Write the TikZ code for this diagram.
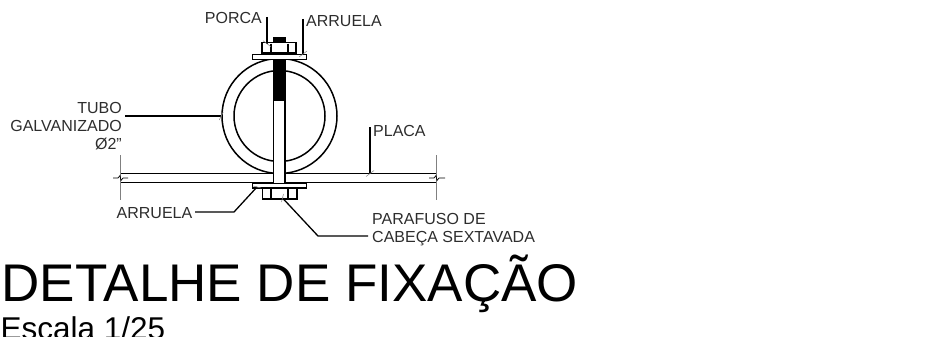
\documentclass[tikz,border=0pt]{standalone}
\usepackage{fontspec}
\setmainfont{Liberation Sans}
\usetikzlibrary{calc}
\definecolor{labelgray}{RGB}{45,45,45}
\tikzset{
    rotulo/.style={inner sep=0pt, text=labelgray, font=\fontsize{16}{18}\selectfont},
    peca/.style={draw, line width=1.5pt, fill=white},
    chamada/.style={line width=1.3pt},
    traco/.style={line width=0.5pt, gray},
}
\begin{document}
\begin{tikzpicture}[x=1pt, y=-1pt]
    \useasboundingbox (0,0) rectangle (929,337);

    % Tube
    \node[circle, draw, line width=1.5pt, inner sep=0pt, minimum size=115pt] (tubo) at (279.5,116) {};
    \node[circle, draw, line width=1.5pt, inner sep=0pt, minimum size=91pt] (tuboint) at (279.5,116) {};

    % Plate
    \coordinate (placaTL) at (120,173.5);
    \coordinate (placaTR) at (436,173.5);
    \coordinate (placaBL) at (120,182.5);
    \coordinate (placaBR) at (436,182.5);
    \draw[line width=1.5pt] (placaTL) -- (placaTR);
    \draw[line width=1.5pt] (placaBL) -- (placaBR);
    \draw[traco] (120,155) -- (120,200);
    \draw[traco] (436,155) -- (436,200);
    \draw[line width=0.7pt] (113,178) -- (118,178) -- (120,175.5) -- (121,180.5) -- (123,178) -- (128,178);
    \draw[line width=0.7pt] (429,178) -- (434,178) -- (436,175.5) -- (437,180.5) -- (439,178) -- (445,178);

    % Bolt
    \node[peca, inner sep=0pt, minimum width=11.5pt, minimum height=145pt, anchor=north] (parafuso) at (279,37.5) {};
    \fill (273,37) rectangle (285,44);
    \foreach \y in {60,62,...,100} {
        \draw[line width=1.2pt] (273,\y) -- (285,\y);
    }

    % Top nut and washer
    \node[peca, inner sep=0pt, minimum width=34pt, minimum height=10.5pt, anchor=south] (porca) at (279,54) {};
    \draw[line width=1.2pt] (271,43.7) -- (271,54);
    \draw[line width=1.2pt] (288,43.7) -- (288,54);
    \node[peca, inner sep=0pt, minimum width=54pt, minimum height=5pt, anchor=north] (arruelasup) at (279.5,54) {};

    % Bottom nut and washer
    \node[peca, inner sep=0pt, minimum width=54pt, minimum height=4.5pt, anchor=north] (arruelainf) at (279.5,182.5) {};
    \node[peca, inner sep=0pt, minimum width=34.5pt, minimum height=11pt, anchor=north] (cabeca) at (279.5,187) {};
    \draw[line width=1.2pt] (271,187) -- (271,197.7);
    \draw[line width=1.2pt] (288,187) -- (288,197.7);

    % Labels
    \node[rotulo, anchor=base east] (lblporca) at (262,24) {PORCA};
    \node[rotulo, anchor=base west] (lblarruelasup) at (306,27) {ARRUELA};
    \node[rotulo, anchor=base west] (lblplaca) at (373,136) {PLACA};
    \node[rotulo, anchor=base east] (lblarruelainf) at (192.5,218) {ARRUELA};
    \node[rotulo, anchor=east, align=right] (lbltubo) at (122,126) {TUBO\\GALVANIZADO\\Ø2"};
    \node[rotulo, anchor=west, align=left] (lblparafuso) at (372,229.5) {PARAFUSO DE\\CABEÇA SEXTAVADA};
    \node[inner sep=0pt, anchor=base west, font=\fontsize{53}{60}\selectfont] (titulo) at (1.5,301.5) {DETALHE DE FIXAÇÃO};
    \node[inner sep=0pt, anchor=base west, font=\fontsize{31.5}{36}\selectfont] (escala) at (0.5,339.5) {Escala 1/25};

    % Leaders
    \coordinate (iniporca) at (267,17);
    \coordinate (fimporca) at (267,43.7);
    \coordinate (iniarrsup) at (303,19);
    \coordinate (fimarrsup) at (303,54);
    \coordinate (iniplaca) at (370,127);
    \coordinate (fimplaca) at (370,173.5);
    \coordinate (initubo) at (125,116);
    \coordinate (iniarrinf) at (195,212);
    \coordinate (dobraarrinf) at (234,212);
    \coordinate (fimarrinf) at (257,187);
    \coordinate (iniparaf) at (368,236);
    \coordinate (dobraparaf) at (318,236);
    \coordinate (fimparaf) at (282.5,198);
    \draw[chamada] (iniporca) -- (fimporca);
    \draw[chamada] (iniarrsup) -- (fimarrsup);
    \draw[chamada] (iniplaca) -- (fimplaca);
    \draw[chamada] (initubo) -- (tubo.west);
    \draw[chamada] (iniarrinf) -- (dobraarrinf) -- (fimarrinf);
    \draw[chamada] (iniparaf) -- (dobraparaf) -- (fimparaf);

    % Ticks
    \foreach \p/\dx/\dy in {fimporca/4/3, fimarrsup/4/-3, fimplaca/4/-3, tubo.west/-2/4, fimarrinf/4/1, fimparaf/-1/4} {
        \draw[traco] ($(\p)+(-\dx,-\dy)$) -- ($(\p)+(\dx,\dy)$);
    }
\end{tikzpicture}
\end{document}
